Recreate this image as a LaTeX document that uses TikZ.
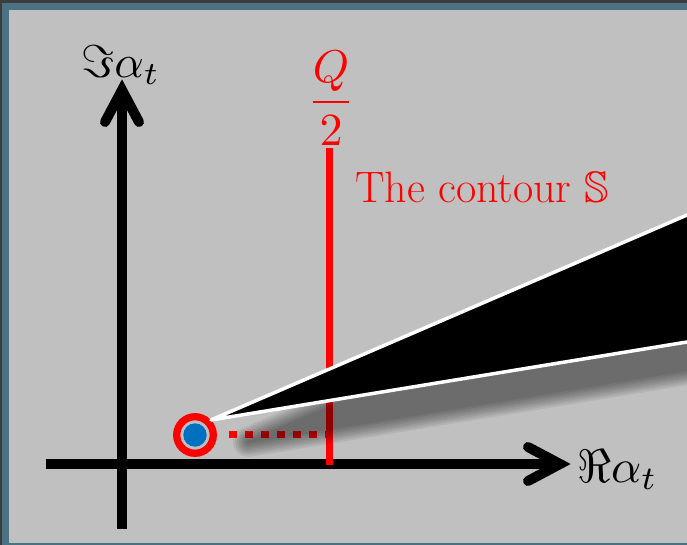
\documentclass[tikz,border=0pt]{standalone}
\usepackage{amssymb}
\usepackage{graphicx}
\definecolor{panel}{HTML}{C0C0C0}
\definecolor{frameteal}{HTML}{4A7282}
\definecolor{darkbg}{HTML}{3C3C3C}
\definecolor{ptblue}{HTML}{0070C0}
\begin{document}
\begin{tikzpicture}[x=1pt,y=-1pt,
  axisline/.style={line width=10pt, black},
  axishead/.style={line width=10pt, black, line cap=round, line join=miter},
  redtxt/.style={text=red, inner sep=0pt},
  bigfont/.style={font=\fontsize{44}{52}\selectfont}]
\useasboundingbox (0,0) rectangle (687,545);
\fill[darkbg] (0,0) rectangle (687,545);
\fill[frameteal] (2,3) rectangle (687,545);
\fill[panel] (8.5,10.5) rectangle (687,542.5);
\begin{scope}
\clip (8.5,10.5) rectangle (687,542.5);
% axes
\coordinate (xs) at (46,464);
\coordinate (xt) at (560,464);
\coordinate (xa1) at (528,447);
\coordinate (xa2) at (528,481);
\coordinate (ys) at (122,529);
\coordinate (yt) at (122,90);
\coordinate (ya1) at (105,122);
\coordinate (ya2) at (139,122);
\draw[axisline] (xs) -- (xt);
\draw[axishead] (xa1) -- (xt) -- (xa2);
\draw[axisline] (ys) -- (yt);
\draw[axishead] (ya1) -- (yt) -- (ya2);
% labels
\node[inner sep=0pt, anchor=base west] (imlab) at (81,78) {\scalebox{4.6}{$\Im\alpha_t$}};
\node[inner sep=0pt, anchor=base west] (relab) at (577,482) {\scalebox{4.7}{$\Re\alpha_t$}};
% contour
\coordinate (rtop) at (329.5,148);
\coordinate (rbot) at (329.5,465);
\draw[red, line width=7.5pt] (rtop) -- (rbot);
\node[redtxt] (qhalf) at (331,98) {\scalebox{4.6}{$\displaystyle\frac{Q}{2}$}};
\node[redtxt, bigfont, anchor=base west] (contlab) at (355,203) {The contour $\mathbb{S}$};
% point
\coordinate (d1) at (229,434.5);
\coordinate (d2) at (333,434.5);
\draw[red, line width=7pt, dash pattern=on 8pt off 8pt] (d1) -- (d2);
\node[circle, draw=red, line width=7.3pt, minimum size=36.6pt, inner sep=0pt] (ring) at (195,435) {};
\node[circle, fill=ptblue, minimum size=23.4pt, inner sep=0pt] (pt) at (ring.center) {};
% shadow of the wedge (shifted copy, softened by widening layers)
\coordinate (sA) at (248,442);
\coordinate (sB) at (777,214.2);
\coordinate (sC) at (777,355.3);
\foreach \w in {2,6,10,14,18,22,26,30}{
  \begin{scope}[transparency group, opacity=0.065]
    \filldraw[black, line width=\w pt, line join=round] (sA) -- (sB) -- (sC) -- cycle;
  \end{scope}
}
% wedge
\coordinate (apex) at (211,420);
\coordinate (wu) at (740,192.2);
\coordinate (wl) at (740,333.3);
\draw[white, line width=3.5pt, fill=black, line join=round] (apex) -- (wu) -- (wl) -- cycle;
\end{scope}
\end{tikzpicture}
\end{document}
